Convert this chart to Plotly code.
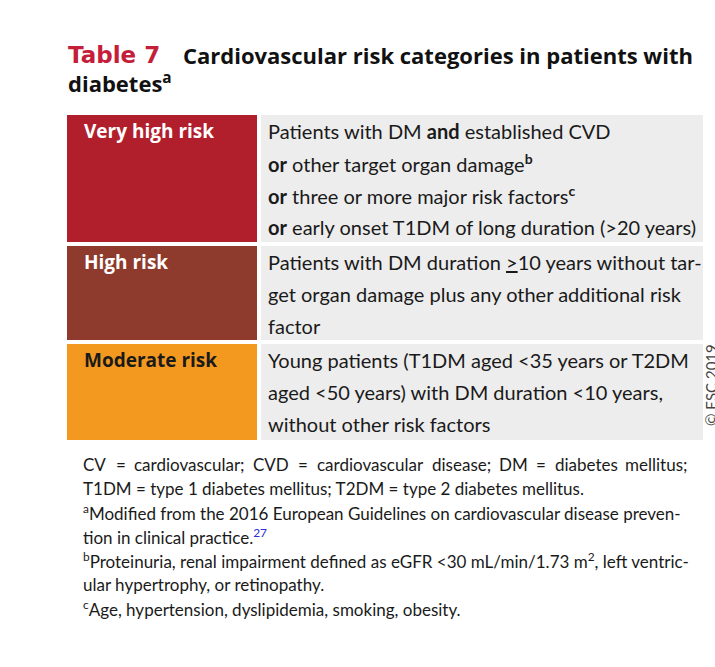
import plotly.graph_objects as go

# ---- data ----
title_label = "Table 7"
title_text = "Cardiovascular risk categories in patients with"
title_text2 = "diabetes<sup>a</sup>"

categories = ["Very high risk", "High risk", "Moderate risk"]
category_colors = ["#B21F2C", "#8E3A2D", "#F4991F"]
category_text_colors = ["#FFFFFF", "#FFFFFF", "#1A1A1A"]
descriptions = [
    ["Patients with DM <b>and</b> established CVD",
     "<b>or</b> other target organ damage<sup><b>b</b></sup>",
     "<b>or</b> three or more major risk factors<sup><b>c</b></sup>",
     "<b>or</b> early onset T1DM of long duration (>20 years)"],
    ["Patients with DM duration <u>></u>10 years without tar-",
     "get organ damage plus any other additional risk",
     "factor"],
    ["Young patients (T1DM aged <35 years or T2DM",
     "aged <50 years) with DM duration <10 years,",
     "without other risk factors"],
]
# first footnote line is justified: one entry per word
footnote_first_words = ["CV", "=", "cardiovascular;", "CVD", "=", "cardiovascular",
                        "disease;", "DM", "=", "diabetes", "mellitus;"]
footnotes = [
    "T1DM = type 1 diabetes mellitus; T2DM = type 2 diabetes mellitus.",
    "<sup>a</sup>Modified from the 2016 European Guidelines on cardiovascular disease preven-",
    "tion in clinical practice.<sup><span style='color:#2B2BD9'>27</span></sup>",
    "<sup>b</sup>Proteinuria, renal impairment defined as eGFR <30 mL/min/1.73 m<sup>2</sup>, left ventric-",
    "ular hypertrophy, or retinopathy.",
    "<sup>c</sup>Age, hypertension, dyslipidemia, smoking, obesity.",
]
copyright_text = "© ESC 2019"

# ---- layout geometry ----
FONT = "Lato"
BOLD_FONT = "Open Sans"
W, H = 715, 667
left_x0, left_x1 = 67, 257
right_x0, right_x1 = 261, 703
row_tops = [115, 246, 344]
row_bottoms = [242, 340, 440]
line_step = 32
first_line_offset = 16
word_x = [81, 121, 189, 271, 303, 370, 461, 513, 541, 586, 689]

fig = go.Figure()
shapes = []
annotations = []

for i, cat in enumerate(categories):
    y0, y1 = row_tops[i], row_bottoms[i]
    shapes.append(dict(type="rect", xref="x", yref="y", x0=left_x0, x1=left_x1,
                       y0=y0, y1=y1, fillcolor=category_colors[i], line=dict(width=0), layer="below"))
    shapes.append(dict(type="rect", xref="x", yref="y", x0=right_x0, x1=right_x1,
                       y0=y0, y1=y1, fillcolor="#EDEDED", line=dict(width=0), layer="below"))
    annotations.append(dict(x=82, y=y0 + first_line_offset, xref="x", yref="y",
                            text=f"<b>{cat}</b>", showarrow=False, xanchor="left", yanchor="middle",
                            font=dict(family=BOLD_FONT, size=19, color=category_text_colors[i])))
    for j, line in enumerate(descriptions[i]):
        annotations.append(dict(x=266, y=y0 + first_line_offset + j * line_step, xref="x", yref="y",
                                text=line, showarrow=False, xanchor="left", yanchor="middle",
                                font=dict(family=FONT, size=20, color="#1A1A1A")))

# title
annotations.append(dict(x=66, y=55, xref="x", yref="y", text=f"<b>{title_label}</b>",
                        showarrow=False, xanchor="left", yanchor="middle",
                        font=dict(family="DejaVu Sans", size=23, color="#C41E3A")))
annotations.append(dict(x=181, y=55, xref="x", yref="y", text=f"<b>{title_text}</b>",
                        showarrow=False, xanchor="left", yanchor="middle",
                        font=dict(family=BOLD_FONT, size=22, color="#111111")))
annotations.append(dict(x=66, y=82, xref="x", yref="y", text=f"<b>{title_text2}</b>",
                        showarrow=False, xanchor="left", yanchor="middle",
                        font=dict(family=BOLD_FONT, size=22, color="#111111")))

# footnotes
fn_font = dict(family=FONT, size=17, color="#1A1A1A")
n_words = len(footnote_first_words)
for c, word in enumerate(footnote_first_words):
    anchor = "left" if c == 0 else ("right" if c == n_words - 1 else "center")
    annotations.append(dict(x=word_x[c], y=464, xref="x", yref="y", text=word,
                            showarrow=False, xanchor=anchor, yanchor="middle", font=fn_font))
for k, fn in enumerate(footnotes):
    annotations.append(dict(x=81, y=488 + k * 24, xref="x", yref="y", text=fn,
                            showarrow=False, xanchor="left", yanchor="middle", font=fn_font))

# copyright
annotations.append(dict(x=711, y=385, xref="x", yref="y", text=copyright_text, textangle=-90,
                        showarrow=False, xanchor="center", yanchor="middle",
                        font=dict(family=FONT, size=15, color="#444444")))

fig.update_layout(
    width=W, height=H, margin=dict(l=0, r=0, t=0, b=0),
    paper_bgcolor="white", plot_bgcolor="white",
    xaxis=dict(range=[0, W], visible=False, fixedrange=True),
    yaxis=dict(range=[H, 0], visible=False, fixedrange=True),
    shapes=shapes, annotations=annotations, showlegend=False,
)
fig.write_html("out.html", config={"displayModeBar": False},
               post_script="document.body.style.margin='0';document.body.style.overflow='hidden';")
